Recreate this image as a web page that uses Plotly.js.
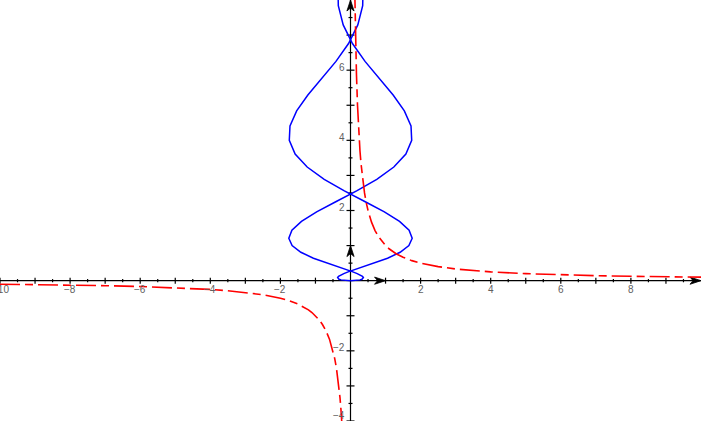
<!DOCTYPE html>
<html>
<head>
<meta charset="utf-8">
<script src="https://cdn.plot.ly/plotly-3.0.1.min.js"></script>
<style>html,body{margin:0;padding:0;background:#fff;}#chart{width:701px;height:421px;}</style>
</head>
<body>
<div id="chart"></div>
<script>
// Blue parametric curve, right-hand branch
var blueRightX = [0, 0.0988, 0.1908, 0.2691, 0.3279, 0.3620, 0.3674, 0.3412, 0.2822, 0.1905, 0.0678, -0.0827, -0.2566, -0.6505, -1.0580, -1.4164, -1.6661, -1.7601, -1.6716, -1.3990, -0.9663, -0.4205, 0.1749, 0.7497, 1.2362, 1.5798, 1.7462, 1.7264, 1.5365, 1.2166, 0.8218, 0.4149, 0.0556, -0.2082, -0.3479, -0.3583];
var blueRightY = [0, 0.0025, 0.01, 0.0225, 0.04, 0.0625, 0.09, 0.1225, 0.16, 0.2025, 0.25, 0.3025, 0.36, 0.49, 0.64, 0.81, 1.0, 1.21, 1.44, 1.69, 1.96, 2.25, 2.56, 2.89, 3.24, 3.61, 4.0, 4.41, 4.84, 5.29, 5.76, 6.25, 6.76, 7.29, 7.84, 8.41];
// Blue curve, left-hand branch (mirror image seen in picture)
var blueLeftX = [0, -0.0988, -0.1908, -0.2691, -0.3279, -0.3620, -0.3674, -0.3412, -0.2822, -0.1905, -0.0678, 0.0827, 0.2566, 0.6505, 1.0580, 1.4164, 1.6661, 1.7601, 1.6716, 1.3990, 0.9663, 0.4205, -0.1749, -0.7497, -1.2362, -1.5798, -1.7462, -1.7264, -1.5365, -1.2166, -0.8218, -0.4149, -0.0556, 0.2082, 0.3479, 0.3583];
var blueLeftY = [0, 0.0025, 0.01, 0.0225, 0.04, 0.0625, 0.09, 0.1225, 0.16, 0.2025, 0.25, 0.3025, 0.36, 0.49, 0.64, 0.81, 1.0, 1.21, 1.44, 1.69, 1.96, 2.25, 2.56, 2.89, 3.24, 3.61, 4.0, 4.41, 4.84, 5.29, 5.76, 6.25, 6.76, 7.29, 7.84, 8.41];

// Red dashed curve
var redRightX = [0.12, 0.13, 0.14, 0.15, 0.17, 0.2, 0.22, 0.25, 0.27, 0.3, 0.35, 0.4, 0.45, 0.5, 0.6, 0.7, 0.8, 0.9, 1.0, 1.1, 1.2, 1.3, 1.5, 1.75, 2, 2.5, 3, 3.5, 4, 5, 6, 7, 8, 9, 10];
var redRightY = [8.333, 7.692, 7.143, 6.667, 5.882, 5.0, 4.545, 4.0, 3.704, 3.333, 2.857, 2.5, 2.222, 2.0, 1.667, 1.429, 1.25, 1.111, 1.0, 0.909, 0.833, 0.769, 0.667, 0.571, 0.5, 0.4, 0.333, 0.286, 0.25, 0.2, 0.167, 0.143, 0.125, 0.111, 0.1];
var redLeftX = [-10, -9, -8, -7, -6, -5, -4, -3.5, -3, -2.5, -2, -1.75, -1.5, -1.3, -1.2, -1.1, -1.0, -0.9, -0.8, -0.7, -0.6, -0.5, -0.45, -0.4, -0.35, -0.3, -0.27, -0.25, -0.24];
var redLeftY = [-0.1, -0.111, -0.125, -0.143, -0.167, -0.2, -0.25, -0.286, -0.333, -0.4, -0.5, -0.571, -0.667, -0.769, -0.833, -0.909, -1.0, -1.111, -1.25, -1.429, -1.667, -2.0, -2.222, -2.5, -2.857, -3.333, -3.704, -4.0, -4.167];

// Axis ticks and labels
var xMajorTicks = [-10, -9, -8, -7, -6, -5, -4, -3, -2, -1, 1, 2, 3, 4, 5, 6, 7, 8, 9];
var xMinorTicks = [-9.5, -8.5, -7.5, -6.5, -5.5, -4.5, -3.5, -2.5, -1.5, -0.5, 0.5, 1.5, 2.5, 3.5, 4.5, 5.5, 6.5, 7.5, 8.5, 9.5];
var yMajorTicks = [-4, -3, -2, -1, 1, 2, 3, 4, 5, 6, 7];
var yMinorTicks = [-3.5, -2.5, -1.5, -0.5, 0.5, 1.5, 2.5, 3.5, 4.5, 5.5, 6.5, 7.5];
var xLabels = [-10, -8, -6, -4, -2, 2, 4, 6, 8];
var yLabels = [-4, -2, 2, 4, 6];

var blue = '#0000ff', red = '#ff0000', axisCol = '#000000';
var redDash = '20px,5px,8px,5px';
var traces = [
  {x: blueRightX, y: blueRightY, mode: 'lines', line: {color: blue, width: 1.5}, hoverinfo: 'skip'},
  {x: blueLeftX, y: blueLeftY, mode: 'lines', line: {color: blue, width: 1.5}, hoverinfo: 'skip'},
  {x: redRightX, y: redRightY, mode: 'lines', line: {color: red, width: 1.6, dash: redDash}, hoverinfo: 'skip'},
  {x: redLeftX, y: redLeftY, mode: 'lines', line: {color: red, width: 1.6, dash: redDash}, hoverinfo: 'skip'}
];

var shapes = [];
shapes.push({type: 'line', xref: 'x', yref: 'y', x0: -10, x1: 10, y0: 0, y1: 0, line: {color: axisCol, width: 1.2}, layer: 'below'});
shapes.push({type: 'line', xref: 'x', yref: 'y', x0: 0, x1: 0, y0: -4, y1: 8, line: {color: axisCol, width: 1.2}, layer: 'below'});
function xTick(v, h) {
  shapes.push({type: 'line', xref: 'x', yref: 'y', ysizemode: 'pixel', yanchor: 0, x0: v, x1: v, y0: -h, y1: h, line: {color: axisCol, width: 1.2}, layer: 'below'});
}
function yTick(v, h) {
  shapes.push({type: 'line', xref: 'x', yref: 'y', xsizemode: 'pixel', xanchor: 0, y0: v, y1: v, x0: -h, x1: h, line: {color: axisCol, width: 1.2}, layer: 'below'});
}
xMajorTicks.forEach(function (v) { xTick(v, 3); });
xMinorTicks.forEach(function (v) { xTick(v, 1.6); });
yMajorTicks.forEach(function (v) { yTick(v, 4); });
yMinorTicks.forEach(function (v) { yTick(v, 2); });

function arrow(ax, ay, dir) {
  var p;
  if (dir === 'right') p = 'M0,0 L-11,3.6 L-8,0 L-11,-3.6 Z';
  else p = 'M0,0 L-3.6,-11 L0,-8 L3.6,-11 Z';
  shapes.push({type: 'path', xref: 'x', yref: 'y', xsizemode: 'pixel', ysizemode: 'pixel', xanchor: ax, yanchor: ay, path: p, fillcolor: axisCol, line: {color: axisCol, width: 0.8}, layer: 'below'});
}
arrow(10, 0, 'right');
arrow(1, 0, 'right');
arrow(0, 8, 'up');
arrow(0, 1, 'up');

function fmt(v) { return v < 0 ? '\u2212' + Math.abs(v) : String(v); }
var labelFont = {family: 'Liberation Sans, Arial, sans-serif', size: 10, color: '#606060'};
var annotations = [];
xLabels.forEach(function (v) {
  annotations.push({x: v, y: 0, xref: 'x', yref: 'y', text: fmt(v), showarrow: false, xanchor: 'center', yanchor: 'middle', yshift: -9, font: labelFont});
});
yLabels.forEach(function (v) {
  annotations.push({x: 0, y: v, xref: 'x', yref: 'y', text: fmt(v), showarrow: false, xanchor: 'right', yanchor: 'middle', xshift: -4, yshift: (v === -4 ? 6 : 3), font: labelFont});
});

var hiddenAxis = {showgrid: false, zeroline: false, showticklabels: false, ticks: '', showline: false, fixedrange: true};
var layout = {
  width: 701, height: 421,
  margin: {l: 0, r: 0, t: 0, b: 0, pad: 0},
  paper_bgcolor: '#ffffff', plot_bgcolor: '#ffffff',
  showlegend: false,
  xaxis: Object.assign({range: [-10, 10]}, hiddenAxis),
  yaxis: Object.assign({range: [-4, 8]}, hiddenAxis),
  shapes: shapes,
  annotations: annotations
};
Plotly.newPlot('chart', traces, layout, {displayModeBar: false, staticPlot: true});
</script>
</body>
</html>
